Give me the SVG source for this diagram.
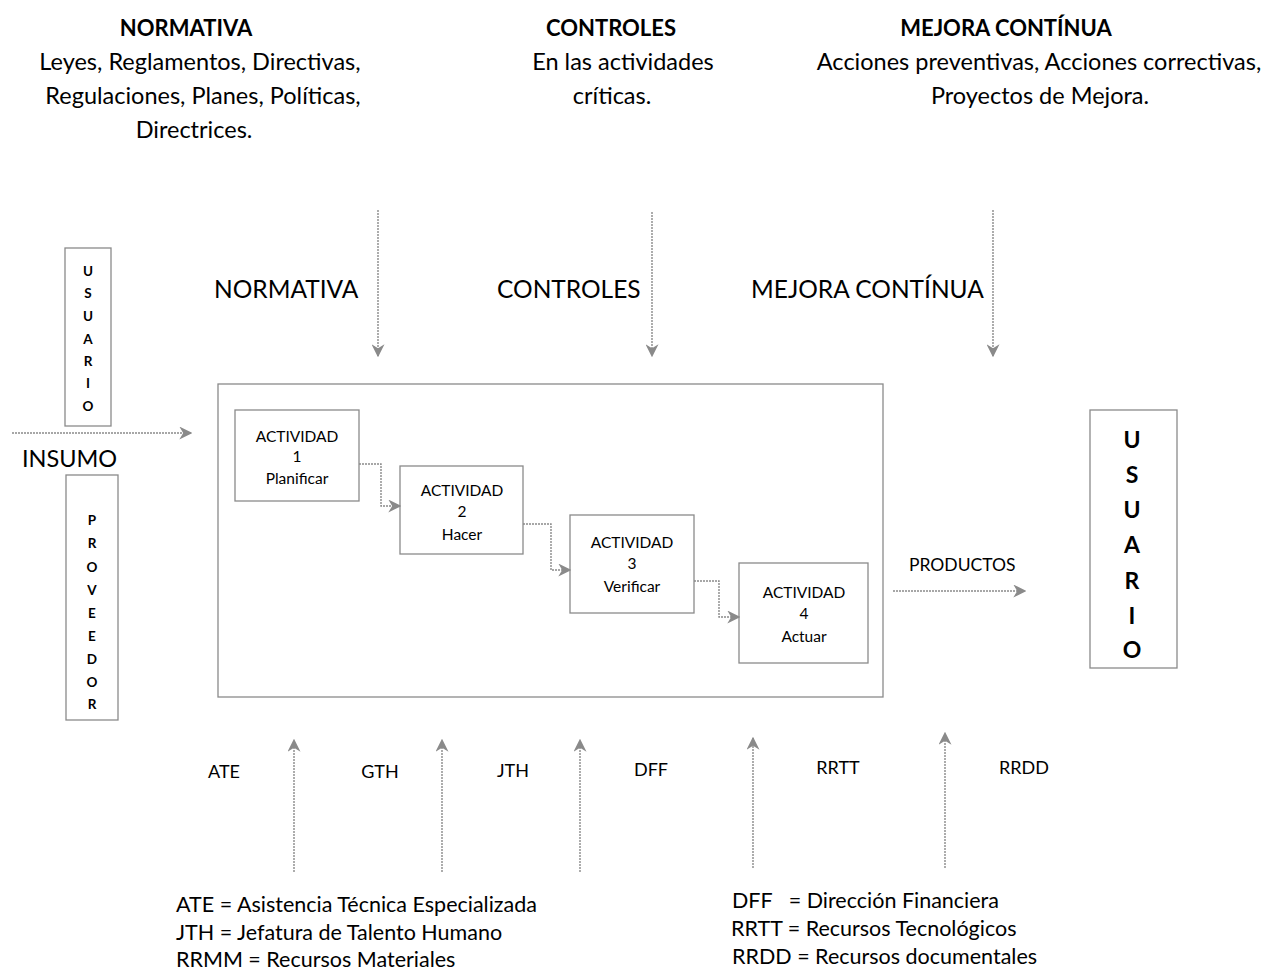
<svg xmlns="http://www.w3.org/2000/svg" width="1275" height="972" viewBox="0 0 1275 972">
<defs>
<style>
text{font-family:Lato,"Open Sans","Liberation Sans",sans-serif;fill:#000}
.h{font-size:22px;font-weight:bold;text-anchor:middle}
.t{font-size:23.5px;text-anchor:middle}
.lab{font-size:24.5px}
.box{fill:#fff;stroke:#8a8a8a;stroke-width:1.3}
.act{font-size:15.5px;text-anchor:middle}
.vl{font-size:13.5px;font-weight:bold;text-anchor:middle}
.vb{font-size:23px;font-weight:bold;text-anchor:middle}
.res{font-size:18px;text-anchor:middle}
.leg{font-size:21.5px}
.c{fill:none;stroke:#8a8a8a;stroke-width:1.4;stroke-dasharray:2 1}
</style>
<marker id="ah" viewBox="0 0 10 10" refX="9" refY="5" markerWidth="13" markerHeight="13" markerUnits="userSpaceOnUse" orient="auto">
<path d="M0,0 L10,5 L0,10 L3,5 z" fill="#8a8a8a"/>
</marker>
</defs>
<rect width="1275" height="972" fill="#fff"/>

<g id="top-normativa">
<text class="h" x="186" y="36">NORMATIVA</text>
<text class="t" x="200" y="70">Leyes, Reglamentos, Directivas,</text>
<text class="t" x="203" y="104">Regulaciones, Planes, Políticas,</text>
<text class="t" x="194" y="138">Directrices.</text>
</g>
<g id="top-controles">
<text class="h" x="611" y="36">CONTROLES</text>
<text class="t" x="623" y="70">En las actividades</text>
<text class="t" x="612" y="104">críticas.</text>
</g>
<g id="top-mejora">
<text class="h" x="1006" y="36">MEJORA CONTÍNUA</text>
<text class="t" x="1039" y="70">Acciones preventivas, Acciones correctivas,</text>
<text class="t" x="1040" y="104">Proyectos de Mejora.</text>
</g>

<g id="labels-mid">
<text class="lab" x="214" y="298">NORMATIVA</text>
<text class="lab" x="497" y="298">CONTROLES</text>
<text class="lab" x="751" y="298">MEJORA CONTÍNUA</text>
<text x="22" y="467" style="font-size:23.5px">INSUMO</text>
<text x="909" y="571" style="font-size:17.5px">PRODUCTOS</text>
</g>

<g id="usuario-left">
<rect class="box" x="65" y="248" width="46" height="178"/>
<text class="vl" x="88" y="276">U</text>
<text class="vl" x="88" y="298">S</text>
<text class="vl" x="88" y="321">U</text>
<text class="vl" x="88" y="344">A</text>
<text class="vl" x="88" y="366">R</text>
<text class="vl" x="88" y="388">I</text>
<text class="vl" x="88" y="411">O</text>
</g>

<g id="proveedor">
<rect class="box" x="66" y="475" width="52" height="245"/>
<text class="vl" x="92" y="525">P</text>
<text class="vl" x="92" y="548">R</text>
<text class="vl" x="92" y="572">O</text>
<text class="vl" x="92" y="595">V</text>
<text class="vl" x="92" y="618">E</text>
<text class="vl" x="92" y="641">E</text>
<text class="vl" x="92" y="664">D</text>
<text class="vl" x="92" y="687">O</text>
<text class="vl" x="92" y="709">R</text>
</g>

<g id="proceso">
<rect class="box" x="218" y="384" width="665" height="313"/>
</g>

<g id="actividad1">
<rect class="box" x="235" y="410" width="124" height="91"/>
<text class="act" x="297" y="442">ACTIVIDAD</text>
<text class="act" x="297" y="462">1</text>
<text class="act" x="297" y="484">Planificar</text>
</g>
<g id="actividad2">
<rect class="box" x="400" y="466" width="123" height="88"/>
<text class="act" x="462" y="496">ACTIVIDAD</text>
<text class="act" x="462" y="517">2</text>
<text class="act" x="462" y="540">Hacer</text>
</g>
<g id="actividad3">
<rect class="box" x="570" y="515" width="124" height="98"/>
<text class="act" x="632" y="548">ACTIVIDAD</text>
<text class="act" x="632" y="569">3</text>
<text class="act" x="632" y="592">Verificar</text>
</g>
<g id="actividad4">
<rect class="box" x="739" y="563" width="129" height="100"/>
<text class="act" x="804" y="598">ACTIVIDAD</text>
<text class="act" x="804" y="619">4</text>
<text class="act" x="804" y="642">Actuar</text>
</g>

<g id="usuario-right">
<rect class="box" x="1090" y="410" width="87" height="258"/>
<text class="vb" x="1132" y="448">U</text>
<text class="vb" x="1132" y="483">S</text>
<text class="vb" x="1132" y="518">U</text>
<text class="vb" x="1132" y="553">A</text>
<text class="vb" x="1132" y="589">R</text>
<text class="vb" x="1132" y="624">I</text>
<text class="vb" x="1132" y="658">O</text>
</g>

<g id="recursos">
<text class="res" x="224" y="778">ATE</text>
<text class="res" x="380" y="778">GTH</text>
<text class="res" x="513" y="777">JTH</text>
<text class="res" x="651" y="776">DFF</text>
<text class="res" x="838" y="774">RRTT</text>
<text class="res" x="1024" y="774">RRDD</text>
</g>

<g id="leyenda">
<text class="leg" x="176" y="912">ATE = Asistencia Técnica Especializada</text>
<text class="leg" x="176" y="940">JTH = Jefatura de Talento Humano</text>
<text class="leg" x="176" y="967">RRMM = Recursos Materiales</text>
<text class="leg" x="732" y="908" xml:space="preserve">DFF   = Dirección Financiera</text>
<text class="leg" x="731" y="936">RRTT = Recursos Tecnológicos</text>
<text class="leg" x="732" y="964">RRDD = Recursos documentales</text>
</g>

<g id="connectors">
<path class="c" d="M378,210 V356" marker-end="url(#ah)"/>
<path class="c" d="M652,212 V356" marker-end="url(#ah)"/>
<path class="c" d="M993,210 V356" marker-end="url(#ah)"/>
<path class="c" d="M12,433 H191" marker-end="url(#ah)"/>
<path class="c" d="M359,464 H381 V506 H400" marker-end="url(#ah)"/>
<path class="c" d="M523,524 H551 V570 H570" marker-end="url(#ah)"/>
<path class="c" d="M694,581 H719 V617 H739" marker-end="url(#ah)"/>
<path class="c" d="M893,591 H1025" marker-end="url(#ah)"/>
<path class="c" d="M294,872 V740" marker-end="url(#ah)"/>
<path class="c" d="M442,872 V740" marker-end="url(#ah)"/>
<path class="c" d="M580,872 V740" marker-end="url(#ah)"/>
<path class="c" d="M753,868 V738" marker-end="url(#ah)"/>
<path class="c" d="M945,868 V733" marker-end="url(#ah)"/>
</g>
</svg>
